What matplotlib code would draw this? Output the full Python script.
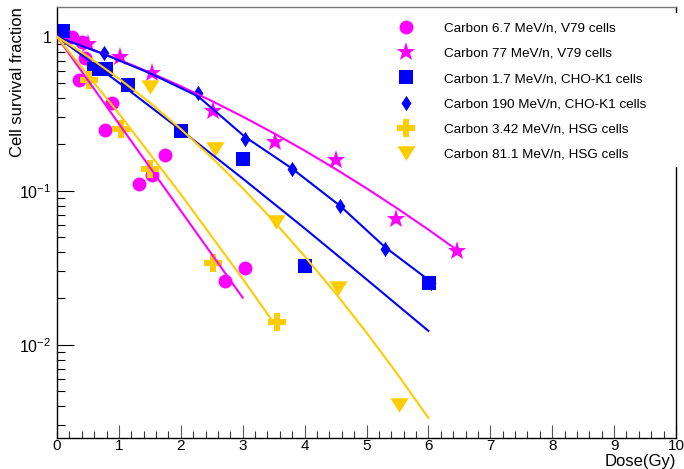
import matplotlib
matplotlib.use("Agg")
import matplotlib.pyplot as plt
from matplotlib.patches import Rectangle
from matplotlib.ticker import FixedLocator, MultipleLocator, LogLocator, NullFormatter

plt.rcParams["font.family"] = ["Liberation Sans", "DejaVu Sans"]
plt.rcParams["mathtext.fontset"] = "custom"
plt.rcParams["mathtext.rm"] = "Liberation Sans"
plt.rcParams["mathtext.default"] = "regular"

# measured points (dose in Gy, survival fraction)
v79_67_dose = [0.25, 0.40, 0.45, 0.36, 0.89, 0.78, 1.74, 1.53, 1.32, 3.04, 2.71]
v79_67_surv = [1.00, 0.92, 0.73, 0.52, 0.37, 0.248, 0.17, 0.126, 0.11, 0.0315, 0.0259]

v79_77_dose = [0.50, 1.02, 1.53, 2.52, 3.52, 4.51, 5.48, 6.46]
v79_77_surv = [0.90, 0.74, 0.58, 0.33, 0.207, 0.158, 0.066, 0.0406]

cho_17_dose = [0.10, 0.59, 0.79, 1.15, 2.00, 3.01, 4.01, 6.01]
cho_17_surv = [1.09, 0.617, 0.617, 0.486, 0.246, 0.160, 0.0324, 0.0253]

cho_190_dose = [0.76, 2.28, 3.03, 3.79, 4.57, 5.30, 6.05]
cho_190_surv = [0.787, 0.434, 0.216, 0.138, 0.0796, 0.0416, 0.0253]

hsg_342_dose = [0.51, 1.03, 1.50, 2.52, 3.55]
hsg_342_surv = [0.524, 0.253, 0.139, 0.034, 0.0140]

hsg_811_dose = [1.50, 2.55, 3.54, 4.54, 5.53]
hsg_811_surv = [0.473, 0.188, 0.063, 0.0232, 0.00404]

# fitted curves
fit_v79_67_dose = [0.0, 1.5, 3.0]
fit_v79_67_surv = [1.0, 0.142, 0.0202]

fit_v79_77_dose = [0.0, 0.5, 1.0, 1.5, 2.0, 2.5, 3.0, 3.5, 4.0, 4.5, 5.0, 5.5, 6.0, 6.5]
fit_v79_77_surv = [1.0, 0.848, 0.710, 0.586, 0.477, 0.383, 0.303, 0.2366, 0.1823,
                   0.1384, 0.1037, 0.0766, 0.0559, 0.0402]

fit_cho_17_dose = [0.0, 1.0, 2.0, 3.0, 4.0, 5.0, 6.0]
fit_cho_17_surv = [1.0, 0.503, 0.248, 0.120, 0.057, 0.0266, 0.0123]

fit_cho_190_dose = [0.0, 0.76, 1.5, 2.28, 3.03, 3.79, 4.57, 5.30, 6.05]
fit_cho_190_surv = [1.0, 0.77, 0.58, 0.41, 0.225, 0.14, 0.080, 0.043, 0.0255]

fit_hsg_342_dose = [0.0, 1.0, 2.0, 3.0, 3.5]
fit_hsg_342_surv = [1.0, 0.317, 0.0948, 0.0268, 0.0139]

fit_hsg_811_dose = [0.0, 0.5, 1.0, 1.5, 2.0, 2.5, 3.0, 3.5, 4.0, 4.5, 5.0, 5.5, 6.0]
fit_hsg_811_surv = [1.0, 0.744, 0.535, 0.373, 0.2516, 0.1643, 0.1038, 0.0636, 0.0376,
                    0.0216, 0.0120, 0.00644, 0.00335]

labels = [
    "Carbon 6.7 MeV/n, V79 cells",
    "Carbon 77 MeV/n, V79 cells",
    "Carbon 1.7 MeV/n, CHO-K1 cells",
    "Carbon 190 MeV/n, CHO-K1 cells",
    "Carbon 3.42 MeV/n, HSG cells",
    "Carbon 81.1 MeV/n, HSG cells",
]

MAGENTA = "#ff00ff"
BLUE = "#0000ff"
ORANGE = "#ffcc00"
TRI_DOWN = [(-1, 0.8), (1, 0.8), (0, -0.8)]
THIN_DIAMOND = [(0, 1), (0.65, 0), (0, -1), (-0.65, 0)]

fig = plt.figure(figsize=(6.84, 4.69), dpi=100)
ax = fig.add_axes([57 / 684, 1 - 438 / 469, 619 / 684, 431 / 469])

series = [
    (v79_67_dose, v79_67_surv, MAGENTA, "o", 10),
    (v79_77_dose, v79_77_surv, MAGENTA, "*", 14),
    (cho_17_dose, cho_17_surv, BLUE, "s", 9.6),
    (cho_190_dose, cho_190_surv, BLUE, THIN_DIAMOND, 11),
    (hsg_342_dose, hsg_342_surv, ORANGE, "P", 13),
    (hsg_811_dose, hsg_811_surv, ORANGE, TRI_DOWN, 13),
]
for (d, s, c, m, ms), lab in zip(series, labels):
    ax.plot(d, s, ls="none", marker=m, ms=ms, color=c, mec=c, mew=0, label=lab, zorder=2)

fits = [
    (fit_v79_67_dose, fit_v79_67_surv, MAGENTA),
    (fit_v79_77_dose, fit_v79_77_surv, MAGENTA),
    (fit_cho_17_dose, fit_cho_17_surv, BLUE),
    (fit_cho_190_dose, fit_cho_190_surv, BLUE),
    (fit_hsg_342_dose, fit_hsg_342_surv, ORANGE),
    (fit_hsg_811_dose, fit_hsg_811_surv, ORANGE),
]
for d, s, c in fits:
    ax.plot(d, s, color=c, lw=1.5, zorder=3)

ax.set_yscale("log")
ax.set_xlim(0, 10)
ax.set_ylim(0.00248, 1.56)

ax.xaxis.set_major_locator(MultipleLocator(1))
ax.xaxis.set_minor_locator(MultipleLocator(0.2))
ax.yaxis.set_major_locator(FixedLocator([0.01, 0.1, 1]))
ax.set_yticklabels(["$10^{-2}$", "$10^{-1}$", "1"])
ax.yaxis.set_minor_locator(LogLocator(base=10, subs=range(2, 10)))
ax.yaxis.set_minor_formatter(NullFormatter())

ax.tick_params(axis="x", which="major", direction="in", length=9.1, width=0.8,
               color="#555555", labelsize=11, pad=1)
ax.tick_params(axis="x", which="minor", direction="in", length=4.8, width=0.8, color="#333333")
ax.tick_params(axis="y", which="major", direction="in", length=12.2, width=0.8,
               labelsize=11.5, pad=4)
ax.tick_params(axis="y", which="minor", direction="in", length=6.0, width=0.8)

for sp in ax.spines.values():
    sp.set_linewidth(1.0)
ax.spines["top"].set_color("#777777")

ax.set_xlabel("Dose(Gy)", fontsize=12, loc="right")
ax.xaxis.set_label_coords(1.0, -0.038)
ax.set_ylabel("Cell survival fraction", fontsize=12, loc="top")
ax.yaxis.set_label_coords(-0.051, 1.0)

# white legend pad hides part of the right frame, as in the original
ax.add_patch(Rectangle((0.99, (438 - 167) / 431), 0.03, 154 / 431, transform=ax.transAxes,
                       facecolor="white", edgecolor="none", zorder=4, clip_on=False))

ax.legend(loc="upper left", bbox_to_anchor=(0.5415, 0.9644), frameon=False,
          fontsize=9.7, borderpad=0, borderaxespad=0, handlelength=2.0,
          handletextpad=1.84, labelspacing=0.945, numpoints=1)

fig.savefig("out.png", dpi=100)
